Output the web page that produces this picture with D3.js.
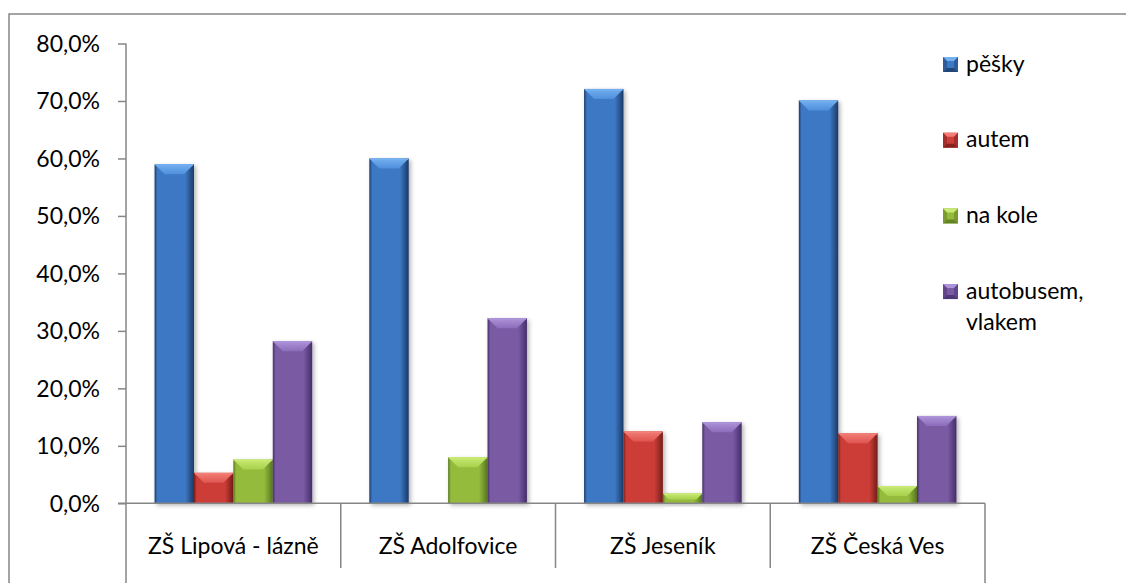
<!DOCTYPE html>
<html lang="cs">
<head>
<meta charset="utf-8">
<title>Doprava do školy</title>
<style type="text/css">
	body {
		margin: 0;
		background-color: white;
		font-family: Lato, "Open Sans", sans-serif;
	}
	svg {
		display: block;
		background-color: white;
	}
	.axis path,
	.axis line {
		fill: none;
		stroke: #868686;
		stroke-width: 1.5px;
	}
	.axis text {
		font-family: Lato, sans-serif;
		font-size: 23px;
		fill: #000;
	}
	.catlabel, .legend text {
		font-family: Lato, sans-serif;
		font-size: 23px;
		fill: #000;
	}
	.frame {
		fill: none;
		stroke: #868686;
		stroke-width: 1.5px;
	}
</style>
</head>
<body>

<script src="https://cdn.jsdelivr.net/npm/d3@7"></script>
<script type="text/javascript">

	// data
	var categories = ["ZŠ Lipová - lázně", "ZŠ Adolfovice", "ZŠ Jeseník", "ZŠ Česká Ves"];
	var seriesNames = ["pěšky", "autem", "na kole", "autobusem, vlakem"];
	var peskyValues = [0.590, 0.600, 0.721, 0.701];
	var autemValues = [0.053, 0.000, 0.125, 0.122];
	var kolaValues = [0.076, 0.080, 0.017, 0.030];
	var busValues = [0.282, 0.322, 0.141, 0.152];
	var yTicks = [0, 0.1, 0.2, 0.3, 0.4, 0.5, 0.6, 0.7, 0.8];

	var seriesValues = [peskyValues, autemValues, kolaValues, busValues];

	// Excel-like bevel colours: body, light top, mid (lower end of bevel), dark edge
	var palette = [
		{ body: "#3d78c4", light: "#74b0f0", mid: "#4f8fdc", dark: "#1b3a66" },
		{ body: "#cd3e39", light: "#f27e77", mid: "#e05550", dark: "#761c19" },
		{ body: "#95bb3d", light: "#c8ea72", mid: "#a8d04c", dark: "#58771e" },
		{ body: "#7a5aa3", light: "#ad93d8", mid: "#8c6cbb", dark: "#442e6a" }
	];

	var fullwidth = 1126;
	var fullheight = 583;

	var plot = { left: 126, right: 985, top: 43.5, bottom: 503.3 };

	var svg = d3.select("body")
		.append("svg")
		.attr("width", fullwidth)
		.attr("height", fullheight);

	var defs = svg.append("defs");

	defs.append("filter")
		.attr("id", "shadow")
		.attr("x", "-20%").attr("y", "-20%")
		.attr("width", "150%").attr("height", "150%")
		.append("feDropShadow")
		.attr("dx", 2).attr("dy", 2)
		.attr("stdDeviation", 2)
		.attr("flood-color", "#000")
		.attr("flood-opacity", 0.3);

	palette.forEach(function(p, i) {
		var side = defs.append("linearGradient")
			.attr("id", "side" + i)
			.attr("x1", 0).attr("x2", 1).attr("y1", 0).attr("y2", 0);
		side.append("stop").attr("offset", "0%").attr("stop-color", p.dark);
		side.append("stop").attr("offset", "7%").attr("stop-color", p.body);
		side.append("stop").attr("offset", "78%").attr("stop-color", p.body);
		side.append("stop").attr("offset", "100%").attr("stop-color", p.dark);

		var top = defs.append("linearGradient")
			.attr("id", "top" + i)
			.attr("x1", 0).attr("x2", 0).attr("y1", 0).attr("y2", 1);
		top.append("stop").attr("offset", "0%").attr("stop-color", p.light);
		top.append("stop").attr("offset", "100%").attr("stop-color", p.mid);
	});

	// chart frame (cut off at the right and bottom in the original)
	svg.append("path")
		.attr("class", "frame")
		.attr("d", "M9," + fullheight + "V14H" + fullwidth);

	var yScale = d3.scaleLinear()
		.domain([0, 0.8])
		.range([plot.bottom, plot.top]);

	var x0 = d3.scaleBand()
		.domain(categories)
		.range([plot.left, plot.right]);

	var x1 = d3.scaleBand()
		.domain(seriesNames)
		.range([0, x0.bandwidth()])
		.paddingInner(0)
		.paddingOuter(0.725);

	var yAxis = d3.axisLeft(yScale)
		.tickValues(yTicks)
		.tickSize(8)
		.tickPadding(18)
		.tickFormat(function(d) {
			return d3.format(".1%")(d).replace(".", ",");
		});

	var yG = svg.append("g")
		.attr("class", "y axis")
		.attr("transform", "translate(" + plot.left + ",0)")
		.call(yAxis);
	yG.select(".domain").remove();
	yG.selectAll("text").attr("dy", "0.34em");

	// y axis line runs down through the category box
	svg.append("line")
		.attr("class", "frame")
		.attr("x1", plot.left).attr("x2", plot.left)
		.attr("y1", plot.top).attr("y2", fullheight);

	// bars
	var rows = categories.map(function(c, ci) {
		return seriesNames.map(function(s, si) {
			return { cat: c, series: s, si: si, value: seriesValues[si][ci] };
		});
	});

	var groups = svg.selectAll("g.cat")
		.data(rows)
		.enter()
		.append("g")
		.attr("class", "cat")
		.attr("transform", function(d, i) { return "translate(" + x0(categories[i]) + ",0)"; });

	var bars = groups.selectAll("g.bar")
		.data(function(d) { return d.filter(function(b) { return b.value > 0; }); })
		.enter()
		.append("g")
		.attr("class", "bar")
		.attr("filter", "url(#shadow)");

	bars.append("rect")
		.attr("x", function(d) { return x1(d.series); })
		.attr("y", function(d) { return yScale(d.value); })
		.attr("width", x1.bandwidth())
		.attr("height", function(d) { return plot.bottom - yScale(d.value); })
		.attr("fill", function(d) { return "url(#side" + d.si + ")"; });

	// top bevel
	bars.append("path")
		.attr("fill", function(d) { return "url(#top" + d.si + ")"; })
		.attr("d", function(d) {
			var x = x1(d.series), w = x1.bandwidth();
			var y = yScale(d.value), h = plot.bottom - y;
			var b = Math.min(10, h * 0.6);
			return "M" + x + "," + y + "H" + (x + w) +
				"L" + (x + w - b) + "," + (y + b) + "H" + (x + b) + "Z";
		});

	// bright rim on top edge
	bars.append("line")
		.attr("x1", function(d) { return x1(d.series) + 1; })
		.attr("x2", function(d) { return x1(d.series) + x1.bandwidth() - 1; })
		.attr("y1", function(d) { return yScale(d.value) + 0.8; })
		.attr("y2", function(d) { return yScale(d.value) + 0.8; })
		.attr("stroke", function(d) { return palette[d.si].light; })
		.attr("stroke-width", 1.5);

	// category axis, drawn on top of bar bottoms
	svg.append("line")
		.attr("class", "frame")
		.attr("x1", plot.left - 8).attr("x2", plot.right)
		.attr("y1", plot.bottom).attr("y2", plot.bottom);

	var bounds = categories.map(function(c) { return x0(c); }).concat([plot.right]);

	svg.selectAll("line.sep")
		.data(bounds.slice(1))
		.enter()
		.append("line")
		.attr("class", "sep frame")
		.attr("x1", function(d) { return d; })
		.attr("x2", function(d) { return d; })
		.attr("y1", plot.bottom)
		.attr("y2", function(d, i) { return i === bounds.length - 2 ? fullheight : 568; });

	svg.selectAll("text.catlabel")
		.data(categories)
		.enter()
		.append("text")
		.attr("class", "catlabel")
		.attr("x", function(d) { return x0(d) + x0.bandwidth() / 2; })
		.attr("y", 554)
		.attr("text-anchor", "middle")
		.text(function(d) { return d; });

	// legend
	var legend = svg.append("g")
		.attr("class", "legend")
		.attr("transform", "translate(943,57)");

	var items = legend.selectAll("g.item")
		.data(seriesNames)
		.enter()
		.append("g")
		.attr("class", "item")
		.attr("transform", function(d, i) { return "translate(0," + (i * 75.7) + ")"; });

	var m = 15, mb = 4;
	items.append("rect")
		.attr("width", m).attr("height", m)
		.attr("fill", function(d, i) { return palette[i].body; });
	items.append("path")
		.attr("fill", function(d, i) { return palette[i].light; })
		.attr("d", "M0,0H" + m + "L" + (m - mb) + "," + mb + "H" + mb + "Z");
	items.append("path")
		.attr("fill", function(d, i) { return palette[i].dark; })
		.attr("opacity", 0.8)
		.attr("d", "M0," + m + "H" + m + "L" + (m - mb) + "," + (m - mb) + "H" + mb + "Z");
	items.append("path")
		.attr("fill", function(d, i) { return palette[i].dark; })
		.attr("opacity", 0.45)
		.attr("d", "M0,0L" + mb + "," + mb + "V" + (m - mb) + "L0," + m + "Z" +
			"M" + m + ",0L" + (m - mb) + "," + mb + "V" + (m - mb) + "L" + m + "," + m + "Z");

	items.append("text")
		.attr("x", 23)
		.attr("y", 14.7)
		.each(function(d) {
			var parts = d.split(" ");
			var t = d3.select(this);
			if (d.indexOf(",") > -1) {
				t.append("tspan").attr("x", 23).text(parts[0]);
				t.append("tspan").attr("x", 23).attr("dy", 31.7).text(parts[1]);
			} else {
				t.text(d);
			}
		});

</script>
</body>
</html>
